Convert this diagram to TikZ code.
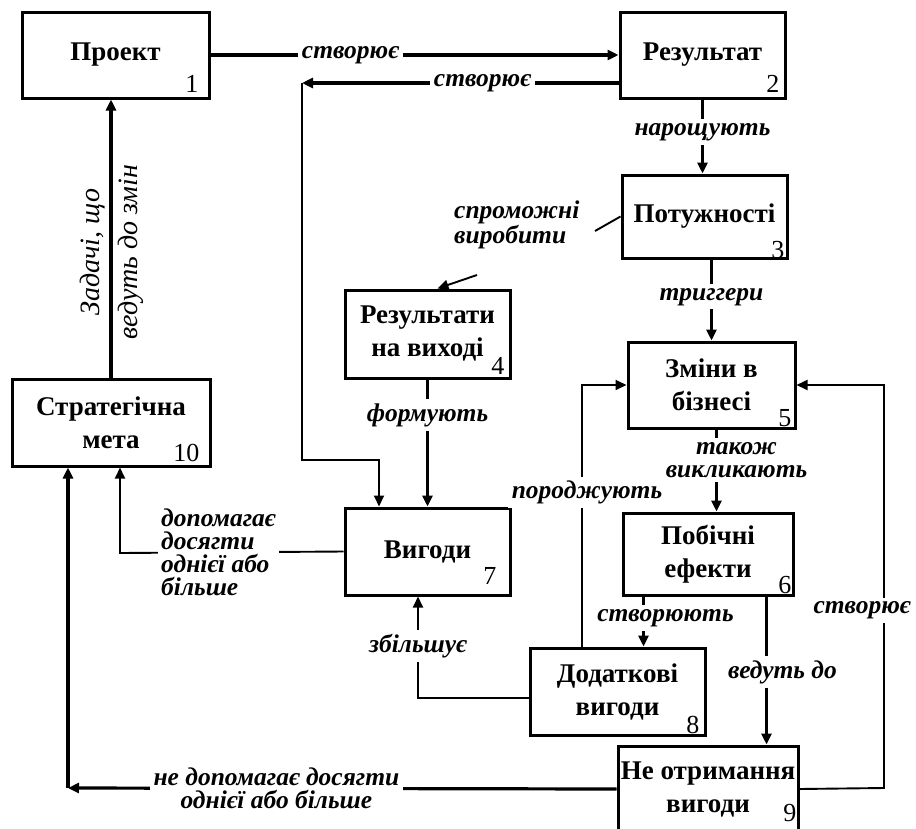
\documentclass[tikz,border=0pt]{standalone}
\usepackage{fontspec}
\setmainfont{Liberation Serif}
\usetikzlibrary{arrows.meta,calc}

\tikzset{
  box/.style={draw, line width=3pt, align=center, inner sep=2pt,
    font=\fontsize{27}{33}\selectfont\bfseries},
  num/.style={anchor=base east, inner sep=0pt, font=\fontsize{26}{26}\selectfont},
  lbl/.style={fill=white, inner sep=4pt, align=center,
    font=\fontsize{25.5}{23}\selectfont\bfseries\itshape},
  thickln/.style={line width=3.2pt},
  thinln/.style={line width=1.9pt},
  tip/.style={-{Triangle[length=11pt,width=10pt]}},
}

\begin{document}
\begin{tikzpicture}[x=1pt,y=-1pt]
\useasboundingbox (0,0) rectangle (916,828);
\clip (0,0) rectangle (916,828);

% boxes
\node[box, minimum width=187pt, minimum height=86pt] (b1) at (115.5,55) {Проект};
\node[box, minimum width=165pt, minimum height=86pt] (b2) at (702.5,55) {Результат};
\node[box, minimum width=165pt, minimum height=83pt] (b3) at (704.5,216.5) {Потужності};
\node[box, minimum width=165pt, minimum height=88pt] (b4) at (427.5,334) {Результати\\на виході};
\node[box, minimum width=167pt, minimum height=86pt] (b5) at (711.5,385) {Зміни в\\бізнесі};
\node[box, minimum width=170pt, minimum height=82pt] (b6) at (708,554) {Побічні\\ефекти};
\node[box, minimum width=165pt, minimum height=87pt] (b7) at (427.5,551.5) {Вигоди};
\node[box, minimum width=175pt, minimum height=87pt] (b8) at (617.5,691.5) {Додаткові\\вигоди};
\node[box, minimum width=180pt, minimum height=86pt] (b9) at (708,789) {Не отримання\\вигоди};
\node[box, minimum width=198pt, minimum height=87pt] (b10) at (111,422.5) {Стратегічна\\мета};

% box numbers
\node[num] (n1) at ($(b1.south east)+(-12,-7)$) {1};
\node[num] (n2) at ($(b2.south east)+(-7,-7)$) {2};
\node[num] (n3) at ($(b3.south east)+(-4,-1)$) {3};
\node[num] (n4) at ($(b4.south east)+(-7,-5)$) {4};
\node[num] (n5) at ($(b5.south east)+(-5,-3)$) {5};
\node[num] (n6) at ($(b6.south east)+(-3,-3)$) {6};
\node[num] (n7) at ($(b7.south east)+(-15,-12)$) {7};
\node[num] (n8) at ($(b8.south east)+(-7,-3)$) {8};
\node[num] (n9) at ($(b9.south east)+(-3,-12)$) {9};
\node[num] (n10) at ($(b10.south east)+(-12,-6)$) {10};

% bend points
\coordinate (c27a) at (302,83);
\coordinate (c27b) at (302,460);
\coordinate (c27c) at (379,460);
\coordinate (c34a) at (595,231);
\coordinate (c34b) at (477,275);
\coordinate (c710) at (120,553);
\coordinate (c87) at (418,698);
\coordinate (c85) at (582,385);
\coordinate (c95a) at (884,788);
\coordinate (c95b) at (884,385);
\coordinate (c910) at (68,788);

% 1 -> 2
\draw[thickln, tip] (b1.east) -- (b2.west) node[lbl, pos=0.343] (l12) {створює};

% 2 -> 7
\draw[thickln, tip] (b2.west |- c27a) -- (c27a) node[lbl, pos=0.43] (l27) {створює};
\draw[thinln, tip] (c27a) -- (c27b) -- (c27c) -- (c27c |- b7.north);

% 2 -> 3
\draw[thickln, tip] (b2.south) -- (b2.south |- b3.north) node[lbl, pos=0.44] (l23) {нарощують};

% 3 -> 4
\draw[thinln] (b3.west) -- (c34a);
\node[lbl, fill=none, align=left, anchor=west, inner sep=0pt] (l34) at (454,225) {спроможні\\виробити};
\draw[thinln, tip] (c34b) -- ($(b4.north)+(10,0)$);

% 3 -> 5
\draw[thickln, tip] (b5.north |- b3.south) -- (b5.north) node[lbl, pos=0.46] (l35) {триггери};

% 4 -> 7
\draw[thickln, tip] (b4.south) -- (b7.north) node[lbl, pos=0.28] (l47) {формують};

% 5 -> 6
\draw[thickln, tip] ($(b5.south)+(5,0)$) -- ($(b5.south |- b6.north)+(5,0)$)
  node[lbl, pos=0.37, xshift=20pt] (l56) {також\\викликають};

% 6 -> 8
\draw[thickln, tip] ($(b6.south west)+(22,0)$) -- ($(b6.south west |- b8.north)+(22,0)$)
  node[lbl, pos=0.43, xshift=22pt] (l68) {створюють};

% 6 -> 9
\draw[thickln, tip] ($(b6.south east)+(-28,0)$) -- ($(b6.south east |- b9.north)+(-28,0)$)
  node[lbl, pos=0.51, xshift=16pt] (l69) {ведуть до};

% 7 -> 10
\draw[thinln, tip] (b7.west) -- (c710) -- (c710 |- b10.south);
\node[lbl, align=left, anchor=west, inner sep=3pt] (l710) at (158,552) {допомагає\\досягти\\однієї або\\більше};

% 8 -> 7
\draw[thinln, tip] (b8.west |- c87) -- (c87) -- (c87 |- b7.south)
  node[lbl, pos=0.51] (l87) {збільшує};

% 8 -> 5
\draw[thinln, tip] (b8.north -| c85) -- (c85) node[lbl, pos=0.59, xshift=5pt] (l85) {породжують} -- (b5.west);

% 9 -> 5
\draw[thinln, tip] (b9.east) -- (c95a) -- (c95b) node[lbl, pos=0.44, xshift=-22pt] (l95) {створює} -- (b5.east);

% 9 -> 10
\draw[thickln, tip] (b9.west) -- (c910) node[lbl, pos=0.62] (l910) {не допомагає досягти\\однієї або більше};
\draw[thickln, tip] (c910) -- (c910 |- b10.south);

% 10 -> 1
\draw[thickln, tip] (b10.north) -- (b10.north |- b1.south);
\node[rotate=90, align=center, inner sep=0pt,
  font=\fontsize{28}{25}\selectfont\itshape] (l101) at (112,252) {Задачі, що\\[12pt]ведуть до змін};

\end{tikzpicture}
\end{document}
